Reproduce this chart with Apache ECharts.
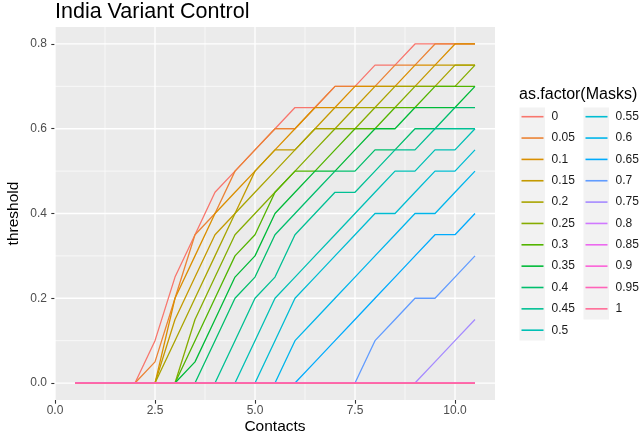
<!DOCTYPE html>
<html>
<head>
<meta charset="utf-8">
<script src="https://cdn.jsdelivr.net/npm/echarts@6/dist/echarts.min.js"></script>
<style>
html,body{margin:0;padding:0;background:#ffffff;}
#chart{width:642px;height:434px;}
</style>
</head>
<body>
<div id="chart"></div>
<script>
// ---- data ----
const contacts = [0.5,1,1.5,2,2.5,3,3.5,4,4.5,5,5.5,6,6.5,7,7.5,8,8.5,9,9.5,10,10.5];
const maskLevels = ['0','0.05','0.1','0.15','0.2','0.25','0.3','0.35','0.4','0.45','0.5',
                    '0.55','0.6','0.65','0.7','0.75','0.8','0.85','0.9','0.95','1'];

const mask000 = [0,0,0,0,0.1,0.25,0.35,0.45,0.5,0.55,0.6,0.65,0.65,0.7,0.7,0.75,0.75,0.8,0.8,0.8,0.8];
const mask005 = [0,0,0,0,0.05,0.2,0.35,0.4,0.5,0.55,0.6,0.6,0.65,0.7,0.7,0.7,0.75,0.75,0.8,0.8,0.8];
const mask010 = [0,0,0,0,0,0.2,0.3,0.4,0.45,0.5,0.55,0.6,0.65,0.65,0.7,0.7,0.7,0.75,0.75,0.8,0.8];
const mask015 = [0,0,0,0,0,0.15,0.25,0.35,0.4,0.5,0.55,0.55,0.6,0.65,0.65,0.7,0.7,0.7,0.75,0.75,0.75];
const mask020 = [0,0,0,0,0,0.1,0.2,0.3,0.4,0.45,0.5,0.55,0.6,0.6,0.65,0.65,0.7,0.7,0.7,0.75,0.75];
const mask025 = [0,0,0,0,0,0,0.15,0.25,0.35,0.4,0.45,0.5,0.55,0.6,0.6,0.65,0.65,0.7,0.7,0.7,0.75];
const mask030 = [0,0,0,0,0,0,0.1,0.2,0.3,0.35,0.45,0.5,0.5,0.55,0.6,0.6,0.65,0.65,0.7,0.7,0.7];
const mask035 = [0,0,0,0,0,0,0.05,0.15,0.25,0.3,0.4,0.45,0.5,0.5,0.55,0.6,0.6,0.65,0.65,0.65,0.7];
const mask040 = [0,0,0,0,0,0,0,0.1,0.2,0.25,0.35,0.4,0.45,0.5,0.5,0.55,0.55,0.6,0.6,0.65,0.65];
const mask045 = [0,0,0,0,0,0,0,0,0.1,0.2,0.25,0.35,0.4,0.45,0.45,0.5,0.55,0.55,0.6,0.6,0.6];
const mask050 = [0,0,0,0,0,0,0,0,0,0.1,0.2,0.25,0.3,0.35,0.4,0.45,0.5,0.5,0.55,0.55,0.6];
const mask055 = [0,0,0,0,0,0,0,0,0,0,0.1,0.2,0.25,0.3,0.35,0.4,0.4,0.45,0.5,0.5,0.55];
const mask060 = [0,0,0,0,0,0,0,0,0,0,0,0.1,0.15,0.2,0.25,0.3,0.35,0.4,0.4,0.45,0.5];
const mask065 = [0,0,0,0,0,0,0,0,0,0,0,0,0.05,0.1,0.15,0.2,0.25,0.3,0.35,0.35,0.4];
const mask070 = [0,0,0,0,0,0,0,0,0,0,0,0,0,0,0,0.1,0.15,0.2,0.2,0.25,0.3];
const mask075 = [0,0,0,0,0,0,0,0,0,0,0,0,0,0,0,0,0,0,0.05,0.1,0.15];
const mask080 = [0,0,0,0,0,0,0,0,0,0,0,0,0,0,0,0,0,0,0,0,0];
const mask085 = [0,0,0,0,0,0,0,0,0,0,0,0,0,0,0,0,0,0,0,0,0];
const mask090 = [0,0,0,0,0,0,0,0,0,0,0,0,0,0,0,0,0,0,0,0,0];
const mask095 = [0,0,0,0,0,0,0,0,0,0,0,0,0,0,0,0,0,0,0,0,0];
const mask100 = [0,0,0,0,0,0,0,0,0,0,0,0,0,0,0,0,0,0,0,0,0];

const xTicks = [0, 2.5, 5, 7.5, 10];
const xTickLabels = ['0.0', '2.5', '5.0', '7.5', '10.0'];
const xMinorTicks = [1.25, 3.75, 6.25, 8.75];
const yTicks = [0, 0.2, 0.4, 0.6, 0.8];
const yTickLabels = ['0.0', '0.2', '0.4', '0.6', '0.8'];
const yMinorTicks = [0.1, 0.3, 0.5, 0.7];

// axis limits (ggplot default 5% expansion of the data range)
const xLimits = [0, 11];
const yLimits = [-0.04, 0.84];

// ---- styling helpers ----
const FONT = '"Liberation Sans", Arial, Helvetica, sans-serif';

function hclToHex(h, c, l) {
  const WX = 95.047, WY = 100.0, WZ = 108.883;
  const un = 4 * WX / (WX + 15 * WY + 3 * WZ);
  const vn = 9 * WY / (WX + 15 * WY + 3 * WZ);
  const hr = h * Math.PI / 180;
  const U = c * Math.cos(hr), V = c * Math.sin(hr);
  const Y = WY * (l > 7.999592 ? Math.pow((l + 16) / 116, 3) : l / 903.3);
  const u = U / (13 * l) + un, v = V / (13 * l) + vn;
  const X = 9 * Y * u / (4 * v);
  const Z = -X / 3 - 5 * Y + 3 * Y / v;
  const x = X / 100, y = Y / 100, z = Z / 100;
  const lin = [
    3.240479 * x - 1.537150 * y - 0.498535 * z,
    -0.969256 * x + 1.875992 * y + 0.041556 * z,
    0.055648 * x - 0.204043 * y + 1.057311 * z
  ];
  return '#' + lin.map(t => {
    t = Math.min(1, Math.max(0, t));
    t = t > 0.0031308 ? 1.055 * Math.pow(t, 1 / 2.4) - 0.055 : 12.92 * t;
    const n = Math.round(255 * Math.min(1, Math.max(0, t)));
    return n.toString(16).padStart(2, '0');
  }).join('');
}
const nLevels = maskLevels.length;
const palette = maskLevels.map((_, i) => hclToHex(15 + i * 360 / nLevels, 100, 65));

const thresholdSets = [mask000, mask005, mask010, mask015, mask020, mask025, mask030,
  mask035, mask040, mask045, mask050, mask055, mask060, mask065, mask070, mask075,
  mask080, mask085, mask090, mask095, mask100];

// ---- white ggplot gridlines as plain line series drawn underneath ----
function gridSeries(points, width) {
  return {
    type: 'line', data: points, symbol: 'none', showSymbol: false, silent: true,
    z: 1, animation: false, tooltip: { show: false },
    lineStyle: { color: '#ffffff', width: width }, itemStyle: { color: '#ffffff' },
    emphasis: { disabled: true }
  };
}
const gridSeriesList = []
  .concat(xMinorTicks.map(v => gridSeries([[v, yLimits[0]], [v, yLimits[1]]], 0.65)))
  .concat(yMinorTicks.map(v => gridSeries([[xLimits[0], v], [xLimits[1], v]], 0.65)))
  .concat(xTicks.map(v => gridSeries([[v, yLimits[0]], [v, yLimits[1]]], 1.3)))
  .concat(yTicks.map(v => gridSeries([[xLimits[0], v], [xLimits[1], v]], 1.3)));

const dataSeries = maskLevels.map((name, i) => ({
  name: name,
  type: 'line',
  data: contacts.map((c, j) => [c, thresholdSets[i][j]]),
  symbol: 'none',
  showSymbol: false,
  z: 2,
  lineStyle: { color: palette[i], width: 1.3 },
  itemStyle: { color: palette[i] },
  emphasis: { disabled: true }
}));

const legendCommon = {
  orient: 'vertical',
  icon: 'rect',
  itemWidth: 22,
  itemHeight: 1.6,
  itemGap: 7.35,
  padding: 0,
  selectedMode: false,
  textStyle: { fontFamily: FONT, fontSize: 12, lineHeight: 14, color: '#1a1a1a', padding: [0, 0, 0, 3] }
};

const option = {
  animation: false,
  backgroundColor: '#ffffff',
  textStyle: { fontFamily: FONT },
  title: [
    { text: 'India Variant Control', left: 55, top: 1, padding: 0,
      textStyle: { fontFamily: FONT, fontSize: 21.5, fontWeight: 'normal', color: '#000000' } },
    { text: 'as.factor(Masks)', left: 519, top: 87, padding: 0,
      textStyle: { fontFamily: FONT, fontSize: 16, fontWeight: 'normal', color: '#000000' } }
  ],
  grid: {
    left: 55, right: 147, top: 27, bottom: 34,
    show: true, backgroundColor: '#EBEBEB', borderWidth: 0,
    containLabel: false, outerBoundsMode: 'none'
  },
  xAxis: {
    type: 'value', min: xLimits[0], max: xLimits[1],
    axisLine: { show: false, onZero: false },
    splitLine: { show: false },
    axisTick: { show: true, length: 3.7, lineStyle: { color: '#333333', width: 1.1 }, customValues: xTicks },
    axisLabel: {
      customValues: xTicks,
      formatter: v => { const k = xTicks.indexOf(v); return k >= 0 ? xTickLabels[k] : ''; },
      color: '#4D4D4D', fontSize: 12, margin: 5, fontFamily: FONT
    },
    name: 'Contacts', nameLocation: 'middle', nameGap: 19, nameMoveOverlap: false,
    nameTextStyle: { color: '#000000', fontSize: 15.5, fontFamily: FONT, verticalAlign: 'top' }
  },
  yAxis: {
    type: 'value', min: yLimits[0], max: yLimits[1],
    axisLine: { show: false, onZero: false },
    splitLine: { show: false },
    axisTick: { show: true, length: 3.7, lineStyle: { color: '#333333', width: 1.1 }, customValues: yTicks },
    axisLabel: {
      customValues: yTicks,
      formatter: v => { let k = -1; yTicks.forEach((t, i) => { if (Math.abs(t - v) < 1e-9) k = i; }); return k >= 0 ? yTickLabels[k] : ''; },
      color: '#4D4D4D', fontSize: 12, margin: 8, fontFamily: FONT
    },
    name: 'threshold', nameLocation: 'middle', nameGap: 33, nameRotate: 90, nameMoveOverlap: false,
    nameTextStyle: { color: '#000000', fontSize: 15.5, fontFamily: FONT }
  },
  legend: [
    Object.assign({}, legendCommon, { data: maskLevels.slice(0, 11), left: 521.5, top: 109.7 }),
    Object.assign({}, legendCommon, { data: maskLevels.slice(11), left: 585.5, top: 109.7 })
  ],
  graphic: [
    { type: 'rect', z: 0, silent: true, shape: { x: 519.5, y: 107.5, width: 25.5, height: 233 }, style: { fill: '#F2F2F2' } },
    { type: 'rect', z: 0, silent: true, shape: { x: 583.5, y: 107.5, width: 25.5, height: 212 }, style: { fill: '#F2F2F2' } }
  ],
  series: gridSeriesList.concat(dataSeries)
};

const chart = echarts.init(document.getElementById('chart'), null, { renderer: 'canvas' });
chart.setOption(option);
</script>
</body>
</html>
